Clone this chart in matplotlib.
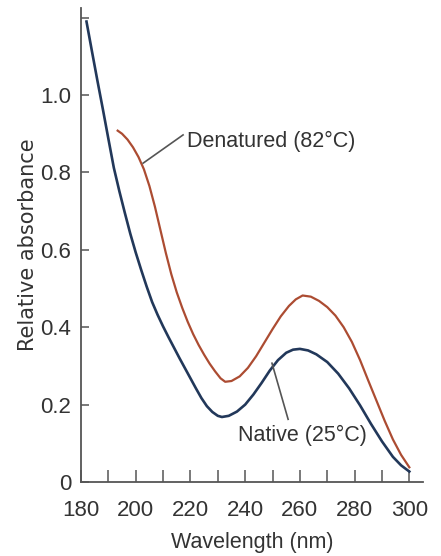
import matplotlib
matplotlib.use("Agg")
import matplotlib.pyplot as plt

# Absorbance spectra of DNA, native vs denatured
native_nm = [182, 184, 186, 188, 190, 192, 194, 196, 198, 200, 202, 204, 206, 208,
             210, 212, 214, 216, 218, 220, 222, 224, 226, 228, 230, 231.5, 234, 237,
             240, 243, 246, 249, 252, 255, 257.5, 260, 263, 266, 270, 274, 278, 282,
             286, 290, 294, 297, 300]
native_abs = [1.19, 1.113, 1.037, 0.963, 0.887, 0.812, 0.752, 0.696, 0.642, 0.593,
              0.548, 0.505, 0.465, 0.432, 0.402, 0.374, 0.347, 0.32, 0.294, 0.268,
              0.242, 0.217, 0.196, 0.181, 0.171, 0.168, 0.171, 0.182, 0.2, 0.226,
              0.256, 0.288, 0.315, 0.334, 0.342, 0.344, 0.34, 0.33, 0.31, 0.28,
              0.242, 0.198, 0.15, 0.105, 0.065, 0.043, 0.027]

denat_nm = [193.4, 195, 197, 199, 201, 203, 205, 207, 209, 211, 213, 215, 217, 219,
            221, 223, 225, 227, 229, 231, 232.7, 235, 238, 241, 244, 247, 250, 253,
            256, 258.5, 261, 264, 267, 270, 273, 276, 279, 282, 285, 288, 291, 294,
            297, 300]
denat_abs = [0.908, 0.90, 0.885, 0.865, 0.84, 0.808, 0.765, 0.712, 0.652, 0.592,
             0.537, 0.49, 0.45, 0.414, 0.382, 0.354, 0.329, 0.306, 0.286, 0.268,
             0.259, 0.261, 0.273, 0.295, 0.325, 0.36, 0.395, 0.428, 0.455, 0.472,
             0.482, 0.479, 0.468, 0.452, 0.43, 0.40, 0.362, 0.315, 0.262, 0.21,
             0.158, 0.11, 0.07, 0.038]

xticks = [180, 200, 220, 240, 260, 280, 300]
yticks = [0, 0.2, 0.4, 0.6, 0.8, 1.0]
ylabels = ["0", "0.2", "0.4", "0.6", "0.8", "1.0"]

narrow = ["Liberation Sans", "DejaVu Sans"]
blue = "#22385a"
red = "#ac4c32"
axc = "#555555"
txt = "#333333"

fig = plt.figure(figsize=(4.41, 5.56), dpi=100)
ax = fig.add_axes([0.1837, 0.1331, 0.7755, 0.8525])

ax.plot(native_nm, native_abs, color=blue, lw=1.9)
ax.plot(denat_nm, denat_abs, color=red, lw=1.6)

ax.set_xlim(180, 305)
ax.set_ylim(0, 1.225)

for s in ["top", "right"]:
    ax.spines[s].set_visible(False)
for s in ["left", "bottom"]:
    ax.spines[s].set_color(axc)
    ax.spines[s].set_linewidth(1.3)

ax.set_xticks(range(180, 301, 10))
ax.set_xticklabels([str(v) if v in xticks else "" for v in range(180, 301, 10)])
ax.set_yticks(yticks + [1.2])
ax.set_yticklabels(ylabels + [""])
ax.tick_params(axis="x", direction="in", length=9, width=1.1, color=axc, pad=13)
ax.tick_params(axis="y", direction="in", length=6, width=1.1, color=axc, pad=7)
for lab in ax.get_xticklabels() + ax.get_yticklabels():
    lab.set_family(narrow)
    lab.set_fontsize(16)
    lab.set_color(txt)

ax.set_xlabel("Wavelength (nm)", family=narrow, fontsize=15.5, color=txt)
ax.xaxis.set_label_coords(0.5, -0.105)
ax.set_ylabel("Relative absorbance", family="DejaVu Sans", fontsize=15, color=txt)
ax.yaxis.set_label_coords(-0.125, 0.5)

# labels with leader lines
ax.plot([202.7, 217.3], [0.824, 0.897], color=axc, lw=1.2)
ax.text(218.6, 0.879, "Denatured (82°C)", family=narrow, fontsize=15.5, color=txt,
        va="center", ha="left")
ax.plot([249.8, 255.7], [0.307, 0.162], color=axc, lw=1.2)
ax.text(237.2, 0.121, "Native (25°C)", family=narrow, fontsize=15.5, color=txt,
        va="center", ha="left")

fig.savefig("out.png", dpi=100)
